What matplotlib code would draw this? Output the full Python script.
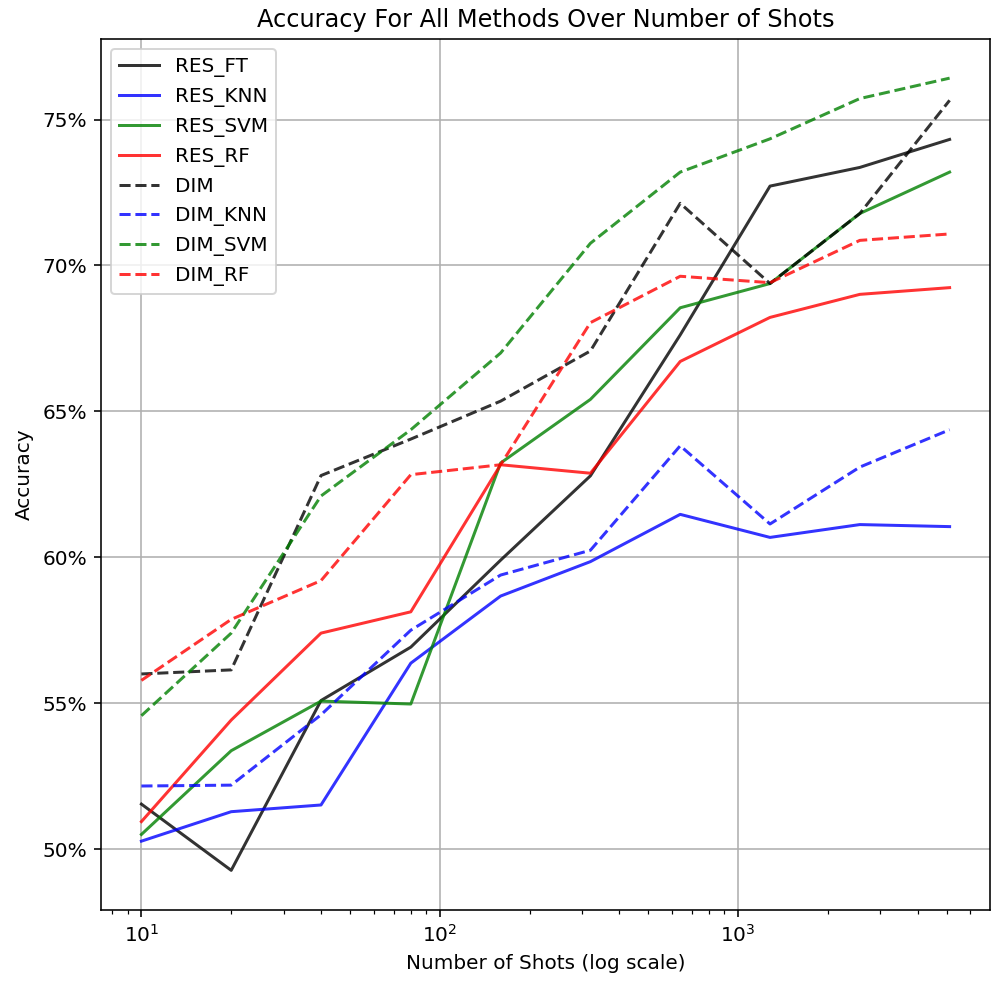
import numpy as np
from matplotlib import pyplot as plt
from matplotlib.ticker import PercentFormatter


shots = [10, 20, 40, 80, 160, 320, 640, 1280, 2560, 5120]

res_ft = [51.54, 49.27, 55.09, 56.92, 59.9, 62.79, 67.62, 72.72, 73.36, 74.32]
res_knn = [50.27, 51.28, 51.51, 56.37, 58.67, 59.85, 61.47, 60.68, 61.12, 61.05]
res_svm = [50.5, 53.37, 55.07, 54.97, 63.23, 65.41, 68.55, 69.38, 71.78, 73.2]
res_rf = [50.94, 54.42, 57.40, 58.13, 63.17, 62.88, 66.71, 68.22, 69.01, 69.24]

dim = [56.0, 56.14, 62.8, 64.05, 65.35, 67.07, 72.13, 69.38, 71.78, 75.66]
dim_knn = [52.16, 52.19, 54.6, 57.5, 59.39, 60.24, 63.82, 61.14, 63.09, 64.37]
dim_svm = [54.57, 57.4, 62.1, 64.37, 67.0, 70.76, 73.2, 74.34, 75.72, 76.42]
dim_rf = [55.78, 57.87, 59.2, 62.83, 63.17, 68.04, 69.63, 69.41, 70.86, 71.08]

methods = ['RES_FT', 'RES_KNN', 'RES_SVM', 'RES_RF',
           'DIM', 'DIM_KNN', 'DIM_SVM', 'DIM_RF']
results = [res_ft, res_knn, res_svm, res_rf, dim, dim_knn, dim_svm, dim_rf]
colors = ['k', 'b', 'g', 'r'] * 2
styles = ['-'] * 4 + ['--'] * 4


def plot_all():
    dpi = 144
    fig = plt.figure(figsize=(996 / dpi, 988 / dpi), dpi=dpi)
    fig.subplots_adjust(left=0.1014, right=0.994, bottom=0.079, top=0.961)
    ax = fig.add_subplot(111)

    for name, acc, c, ls in zip(methods, results, colors, styles):
        ax.plot(shots, acc, c=c, ls=ls, alpha=0.8, label=name)

    ax.set_xscale('log')
    ax.yaxis.set_major_formatter(PercentFormatter(xmax=100, decimals=0))
    ax.grid(True)
    ax.legend(loc='upper left')
    ax.set_title("Accuracy For All Methods Over Number of Shots")
    ax.set_xlabel("Number of Shots (log scale)")
    ax.set_ylabel("Accuracy")

    fig.savefig("out.png", dpi=dpi)
    plt.close(fig)


if __name__ == "__main__":
    plot_all()
